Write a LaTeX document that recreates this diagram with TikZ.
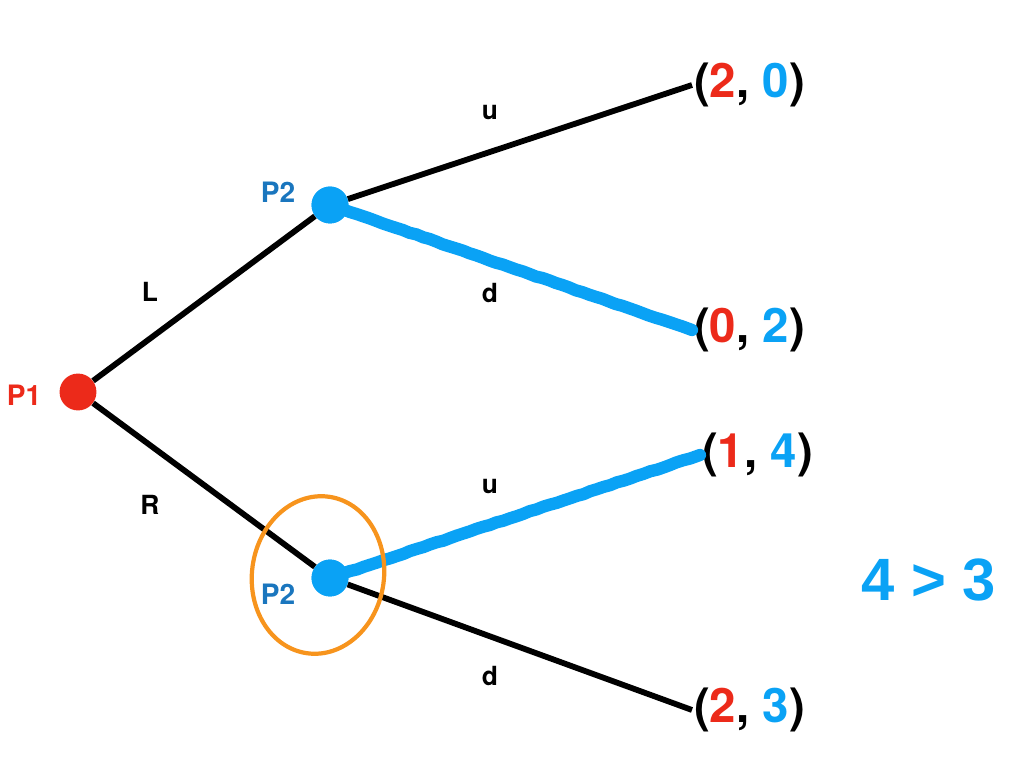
\documentclass[tikz,border=0pt]{standalone}
\usepackage{fontspec}
\setmainfont{TeX Gyre Heros}
\newfontfamily\cmpfont{Liberation Sans}
\usepackage{xcolor}
\usetikzlibrary{decorations.pathmorphing}
\definecolor{pred}{HTML}{EC2A1A}
\definecolor{pblue}{HTML}{0AA2F5}
\definecolor{pdark}{HTML}{1A76BE}
\definecolor{porange}{HTML}{F7941D}

\begin{document}
\begin{tikzpicture}[
  x=0.02cm,y=-0.02cm,
  player/.style={circle,inner sep=0pt,minimum size=21pt},
  who/.style={font=\bfseries\fontsize{16}{18}\selectfont},
  act/.style={font=\bfseries\fontsize{15}{17}\selectfont},
  payoff/.style={anchor=west,inner sep=1pt,font=\bfseries\fontsize{27}{30}\selectfont},
  edge/.style={line width=3.3pt},
  best/.style={line width=7pt,pblue,line cap=round,
    decorate,decoration={random steps,segment length=4pt,amplitude=0.25pt}}]

  \useasboundingbox (0,0) rectangle (1036,763);

  % players
  \node[player,fill=pred] (p1) at (78,392) {};
  \node[player,fill=pblue] (p2up) at (330,205) {};
  \node[player,fill=pblue] (p2dn) at (330,578) {};
  \node[who,text=pred] (p1lab) at (24,395) {P1};
  \node[who,text=pdark] (p2uplab) at (278,192) {P2};
  \node[who,text=pdark] (p2dnlab) at (278,594) {P2};

  % outcomes
  \node[payoff] (uu) at (692,85) {(\textcolor{pred}{2}, \textcolor{pblue}{0})};
  \node[payoff] (ud) at (692,330) {(\textcolor{pred}{0}, \textcolor{pblue}{2})};
  \node[payoff] (du) at (700,455) {(\textcolor{pred}{1}, \textcolor{pblue}{4})};
  \node[payoff] (dd) at (692,710) {(\textcolor{pred}{2}, \textcolor{pblue}{3})};

  \draw[edge] (p1) -- (p2up);
  \draw[edge] (p1) -- (p2dn);
  \draw[edge] (p2up) -- (uu.west);
  \draw[edge] (p2up) -- (ud.west);
  \draw[edge] (p2dn) -- (du.west);
  \draw[edge] (p2dn) -- (dd.west);

  % choices of P2
  \draw[best] (p2up.center) -- (ud.west);
  \draw[best] (p2dn.center) -- (du.west);
  \node[player,fill=pblue] at (p2up) {};
  \node[player,fill=pblue] at (p2dn) {};

  \node[act] (labL) at (150,292) {L};
  \node[act] (labR) at (150,505) {R};
  \node[act] (labu1) at (490,113) {u};
  \node[act] (labd1) at (490,293) {d};
  \node[act] (labu2) at (490,487) {u};
  \node[act] (labd2) at (490,676) {d};

  \draw[porange,line width=2.4pt,rotate around={-8:(318,575)}]
    (318,575) ellipse [x radius=66, y radius=79];

  \node[text=pblue,font=\cmpfont\bfseries\fontsize{34}{40}\selectfont] (cmp) at (929,580) {4 > 3};
\end{tikzpicture}
\end{document}
